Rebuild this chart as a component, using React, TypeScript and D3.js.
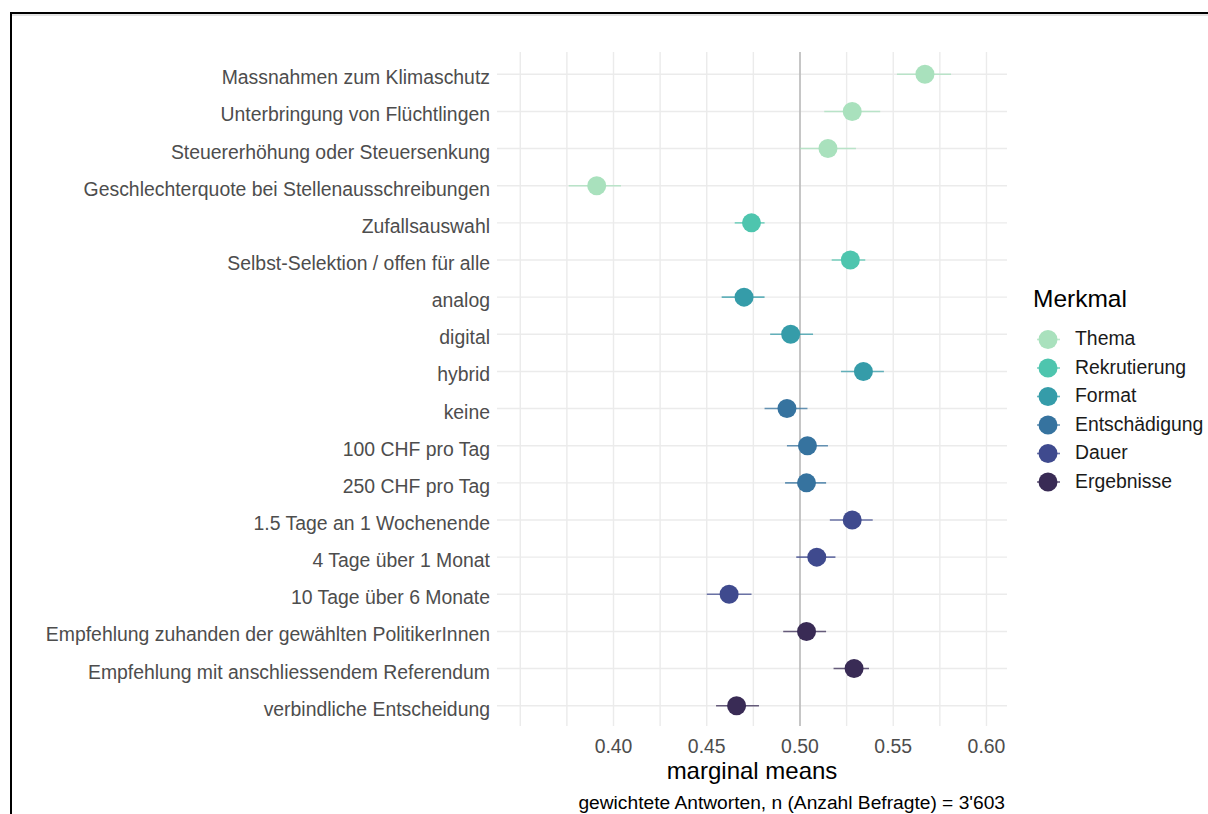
import React from "react";
import * as d3 from "d3";

const labels = [
  "Massnahmen zum Klimaschutz",
  "Unterbringung von Flüchtlingen",
  "Steuererhöhung oder Steuersenkung",
  "Geschlechterquote bei Stellenausschreibungen",
  "Zufallsauswahl",
  "Selbst-Selektion / offen für alle",
  "analog",
  "digital",
  "hybrid",
  "keine",
  "100 CHF pro Tag",
  "250 CHF pro Tag",
  "1.5 Tage an 1 Wochenende",
  "4 Tage über 1 Monat",
  "10 Tage über 6 Monate",
  "Empfehlung zuhanden der gewählten PolitikerInnen",
  "Empfehlung mit anschliessendem Referendum",
  "verbindliche Entscheidung",
];
const groups = [
  "Thema", "Thema", "Thema", "Thema",
  "Rekrutierung", "Rekrutierung",
  "Format", "Format", "Format",
  "Entschädigung", "Entschädigung", "Entschädigung",
  "Dauer", "Dauer", "Dauer",
  "Ergebnisse", "Ergebnisse", "Ergebnisse",
];
const estimates = [0.567, 0.528, 0.515, 0.391, 0.474, 0.527, 0.470, 0.495, 0.534, 0.493, 0.504, 0.5035, 0.528, 0.509, 0.462, 0.5035, 0.529, 0.466];
const lowers = [0.552, 0.513, 0.500, 0.376, 0.465, 0.517, 0.458, 0.484, 0.522, 0.481, 0.493, 0.492, 0.516, 0.498, 0.450, 0.491, 0.518, 0.455];
const uppers = [0.581, 0.543, 0.530, 0.404, 0.481, 0.535, 0.481, 0.507, 0.545, 0.504, 0.515, 0.514, 0.539, 0.519, 0.474, 0.514, 0.537, 0.478];

const legendGroups = ["Thema", "Rekrutierung", "Format", "Entschädigung", "Dauer", "Ergebnisse"];
const groupColors = ["#a9e1bd", "#4ec5ae", "#359ca9", "#36739f", "#3f4a8e", "#392b55"];

const gridBreaks = [0.35, 0.375, 0.4, 0.425, 0.45, 0.475, 0.5, 0.525, 0.55, 0.575, 0.6];
const tickLabels = [0.4, 0.45, 0.5, 0.55, 0.6];

export default function App() {
  const W = 1208, H = 814;
  const panelLeft = 497, panelRight = 1007, panelTop = 52, panelBottom = 728;
  const x = d3.scaleLinear().domain([0.33753, 0.611]).range([panelLeft, panelRight]);
  const y = d3.scalePoint<string>().domain(labels).range([panelTop, panelBottom]).padding(0.6);
  const color = d3.scaleOrdinal<string, string>().domain(legendGroups).range(groupColors);
  const font = "'Liberation Sans', Arial, sans-serif";
  const fmt = d3.format(".2f");

  return (
    <div style={{ position: "absolute", left: 0, top: 0 }}>
      <svg width={W} height={H} style={{ display: "block", fontFamily: font }}>
        <rect x={0} y={0} width={W} height={H} fill="#fff" />
        {/* frame */}
        <line x1={11} y1={12} x2={11} y2={H} stroke="#000" strokeWidth={2} />
        <line x1={10} y1={13} x2={W} y2={13} stroke="#000" strokeWidth={2} />
        <line x1={12} y1={15} x2={W} y2={15} stroke="#c8c8c8" strokeWidth={1} />
        {/* grid */}
        {labels.map((l) => (
          <line key={"h" + l} x1={panelLeft} x2={panelRight} y1={y(l)} y2={y(l)} stroke="#ebebeb" strokeWidth={1.4} />
        ))}
        {gridBreaks.map((b) => (
          <line key={"v" + b} x1={x(b)} x2={x(b)} y1={panelTop} y2={panelBottom - 2} stroke="#ebebeb" strokeWidth={1.4} />
        ))}
        <line x1={x(0.5)} x2={x(0.5)} y1={panelTop} y2={panelBottom - 2} stroke="#aaaaaa" strokeWidth={1.2} />
        {/* data */}
        {labels.map((l, i) => {
          const c = color(groups[i]);
          return (
            <g key={"p" + l}>
              <line x1={x(lowers[i])} x2={x(uppers[i])} y1={y(l)} y2={y(l)} stroke={c} strokeWidth={1.6} opacity={0.75} />
              <circle cx={x(estimates[i])} cy={y(l)} r={9.5} fill={c} />
            </g>
          );
        })}
        {/* y labels */}
        {labels.map((l) => (
          <text key={"t" + l} x={490} y={(y(l) as number) + 10} textAnchor="end" fontSize={19.4} fill="#4d4d4d">
            {l}
          </text>
        ))}
        {/* x tick labels */}
        {tickLabels.map((t) => (
          <text key={"x" + t} x={x(t)} y={752.5} textAnchor="middle" fontSize={19.4} fill="#4d4d4d">
            {fmt(t)}
          </text>
        ))}
        <text x={(panelLeft + panelRight) / 2} y={778.5} textAnchor="middle" fontSize={24} fill="#000">
          marginal means
        </text>
        <text x={1005} y={808.5} textAnchor="end" fontSize={19.2} fill="#000">
          gewichtete Antworten, n (Anzahl Befragte) = 3'603
        </text>
        {/* legend */}
        <text x={1033} y={307} fontSize={24.5} fill="#000">Merkmal</text>
        {legendGroups.map((g, i) => {
          const cy = 339.5 + i * 28.5;
          return (
            <g key={"lg" + g}>
              <line x1={1037} x2={1060} y1={cy} y2={cy} stroke={color(g)} strokeWidth={1.6} opacity={0.75} />
              <circle cx={1048} cy={cy} r={9.5} fill={color(g)} />
              <text x={1075} y={cy + 5.5} fontSize={19.4} fill="#1a1a1a">{g}</text>
            </g>
          );
        })}
      </svg>
    </div>
  );
}
